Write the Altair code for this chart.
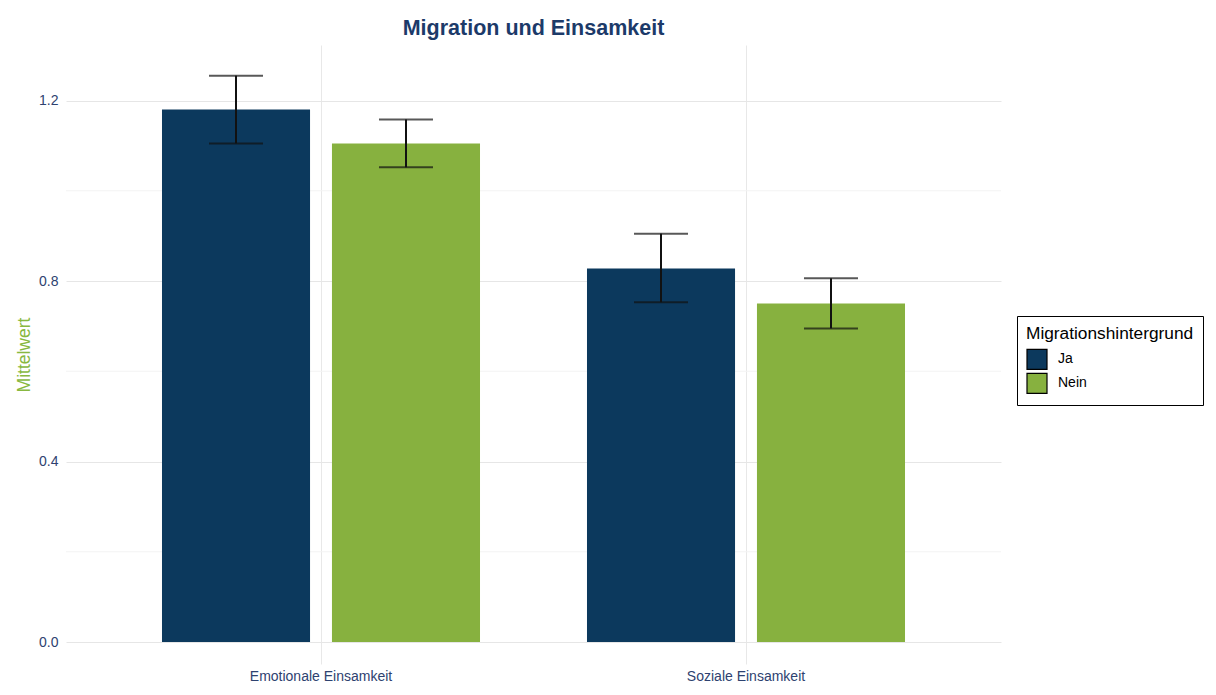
import altair as alt
import pandas as pd

# ---- data ----
dimension = ["Emotionale Einsamkeit", "Emotionale Einsamkeit",
             "Soziale Einsamkeit", "Soziale Einsamkeit"]
gruppe = ["Ja", "Nein", "Ja", "Nein"]
mittelwert = [1.180, 1.105, 0.828, 0.750]
ci_low = [1.105, 1.052, 0.753, 0.695]
ci_high = [1.255, 1.158, 0.905, 0.806]

y_ticks = [0.0, 0.4, 0.8, 1.2]
y_minor = [0.2, 0.6, 1.0]

df = pd.DataFrame({
    "dimension": dimension,
    "gruppe": gruppe,
    "mittelwert": mittelwert,
    "lo": ci_low,
    "hi": ci_high,
})
minor_df = pd.DataFrame({"v": y_minor})

NAVY = "#0c395d"
GREEN = "#87b13f"
LABEL = "#2e4270"
FONT = "Liberation Sans"

y_scale = alt.Scale(domain=[-0.0487, 1.323], nice=False, zero=False)

x_enc = alt.X(
    "dimension:N",
    sort=["Emotionale Einsamkeit", "Soziale Einsamkeit"],
    scale=alt.Scale(paddingInner=0, paddingOuter=0.1),
    axis=alt.Axis(
        title=None, labelAngle=0, ticks=False, domain=False,
        grid=True, bandPosition=0.5, gridColor="#e8e8e8", gridWidth=1,
        labelFontSize=14, labelColor=LABEL, labelPadding=5, labelFont=FONT,
    ),
)
xoff_enc = alt.XOffset(
    "gruppe:N", sort=["Ja", "Nein"],
    scale=alt.Scale(paddingInner=0.129, paddingOuter=0.3147),
)

minor = alt.Chart(minor_df).mark_rule(color="#f3f3f3", strokeWidth=1).encode(
    y=alt.Y("v:Q", scale=y_scale)
)

base = alt.Chart(df).encode(x=x_enc, xOffset=xoff_enc)

bars = base.mark_bar().encode(
    y=alt.Y(
        "mittelwert:Q", scale=y_scale,
        axis=alt.Axis(
            title="Mittelwert", values=y_ticks, format=".1f",
            ticks=False, domain=False, grid=True, gridColor="#e6e6e6",
            labelFontSize=14, labelColor=LABEL, labelPadding=8, labelFont=FONT,
            titleFontSize=17.5, titleColor="#88b840", titleFontWeight="normal",
            titlePadding=5, titleFont=FONT,
        ),
    ),
    color=alt.Color(
        "gruppe:N",
        scale=alt.Scale(domain=["Ja", "Nein"], range=[NAVY, GREEN]),
        legend=alt.Legend(
            title="Migrationshintergrund", orient="none",
            legendX=951, legendY=271,
            symbolType="square", symbolSize=400,
            symbolStrokeColor="black", symbolStrokeWidth=1.2,
            strokeColor="black", fillColor="white", padding=9,
            titleFontSize=17.3, titleFontWeight="normal", titleColor="black",
            titleFont=FONT, titlePadding=6,
            labelFontSize=14, labelColor="black", labelFont=FONT,
            labelOffset=10, rowPadding=-6,
        ),
    ),
)

err = base.mark_rule(color="#111111", strokeWidth=2).encode(
    y=alt.Y("lo:Q", scale=y_scale), y2="hi:Q"
)
cap_hi = base.mark_tick(color="#111111", thickness=2, size=54).encode(
    y=alt.Y("hi:Q", scale=y_scale)
)
cap_lo = base.mark_tick(color="#111111", thickness=2, size=54).encode(
    y=alt.Y("lo:Q", scale=y_scale)
)

chart = (
    alt.layer(minor, bars, err, cap_hi, cap_lo)
    .properties(
        width=935, height=619,
        padding={"left": 7, "top": 9, "right": 0, "bottom": 0},
        background="white",
        title=alt.TitleParams(
            "Migration und Einsamkeit", fontSize=21.5, fontWeight="bold",
            color="#1c3a69", anchor="middle", offset=6, font=FONT,
        ),
    )
    .configure(font=FONT, view=alt.ViewConfig(strokeWidth=0, stroke="transparent"))
)

chart.save("out.html", embed_options={"renderer": "svg", "actions": False})
